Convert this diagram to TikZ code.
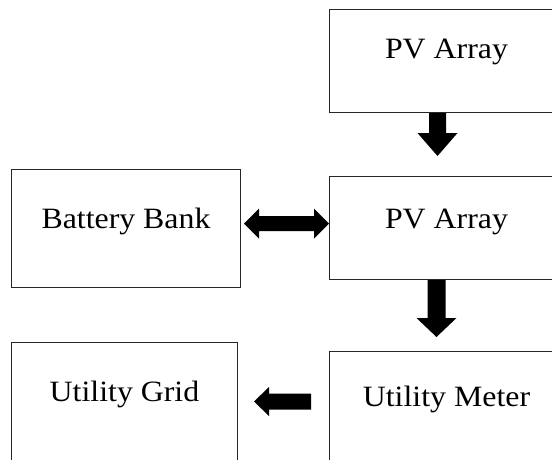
\documentclass[tikz,border=0pt]{standalone}
\usepackage{fontspec}
\setmainfont{Liberation Serif}
\newfontfamily\boxfont[FakeStretch=1.08]{Liberation Serif}
\usetikzlibrary{calc}
\tikzset{
  blk/.style={draw=black!85, line width=1pt, rectangle, inner sep=0pt, anchor=north west},
  lbl/.style={font=\boxfont\fontsize{29.5}{34}\selectfont, anchor=base, inner sep=0pt},
}
\newcommand\blkvert[5]{% start, tip, half shaft, half head, head length (downwards)
  \fill let \p1=(#1), \p2=(#2) in
    (\x1-#3,\y1) -- (\x1+#3,\y1) -- (\x1+#3,\y2+#5) -- (\x1+#4,\y2+#5) --
    (\x1,\y2) -- (\x1-#4,\y2+#5) -- (\x1-#3,\y2+#5) -- cycle;}
\newcommand\blkleft[5]{% tail (right), tip (left), half shaft, half head, head length
  \fill let \p1=(#1), \p2=(#2) in
    (\x1,\y1-#3) -- (\x1,\y1+#3) -- (\x2+#5,\y1+#3) -- (\x2+#5,\y1+#4) --
    (\x2,\y1) -- (\x2+#5,\y1-#4) -- (\x2+#5,\y1-#3) -- cycle;}
\newcommand\blkboth[5]{% left tip, right tip, half shaft, half head, head length
  \fill let \p1=(#1), \p2=(#2) in
    (\x1,\y1) -- (\x1+#5,\y1+#4) -- (\x1+#5,\y1+#3) -- (\x2-#5,\y1+#3) --
    (\x2-#5,\y1+#4) -- (\x2,\y1) -- (\x2-#5,\y1-#4) -- (\x2-#5,\y1-#3) --
    (\x1+#5,\y1-#3) -- (\x1+#5,\y1-#4) -- cycle;}
\begin{document}
\begin{tikzpicture}[x=1pt,y=-1pt]
\useasboundingbox (0,0) rectangle (552,459);
\clip (0,0) rectangle (552,459);
\fill[white] (0,0) rectangle (552,459);
% boxes
\node[blk, minimum width=234pt, minimum height=103pt] (pv1) at (329,9) {};
\node[blk, minimum width=234pt, minimum height=103pt] (pv2) at (329,176) {};
\node[blk, minimum width=229pt, minimum height=118pt] (bat) at (11,169) {};
\node[blk, minimum width=226pt, minimum height=125pt] (grid) at (11,342) {};
\node[blk, minimum width=234pt, minimum height=120pt] (meter) at (329,351) {};
% labels
\node[lbl] (pv1t) at ([yshift=-49pt]pv1.north) {PV Array};
\node[lbl] (pv2t) at ([yshift=-52pt]pv2.north) {PV Array};
\node[lbl] (batt) at ([yshift=-59pt]bat.north) {Battery Bank};
\node[lbl] (gridt) at ([yshift=-59pt]grid.north) {Utility Grid};
\node[lbl] (metert) at ([yshift=-55pt]meter.north) {Utility Meter};
% connectors
\coordinate (a1s) at ([xshift=-9pt]pv1.south);
\coordinate (a1e) at ([xshift=-9pt,yshift=20pt]pv2.north);
\blkvert{a1s}{a1e}{8.5pt}{20pt}{23pt}
\coordinate (a2s) at ([xshift=-10pt]pv2.south);
\coordinate (a2e) at ([xshift=-10pt,yshift=14pt]meter.north);
\blkvert{a2s}{a2e}{9pt}{20pt}{19pt}
\coordinate (a3l) at ([xshift=3pt,yshift=5pt]bat.east);
\coordinate (a3r) at ([yshift=4.5pt]pv2.west);
\blkboth{a3l}{a3r}{7.5pt}{15pt}{15pt}
\coordinate (a4t) at ([xshift=-18pt,yshift=10pt]meter.west);
\coordinate (a4h) at ([xshift=16pt,yshift=4.5pt]grid.east);
\blkleft{a4t}{a4h}{8pt}{14.5pt}{15pt}
\end{tikzpicture}
\end{document}
